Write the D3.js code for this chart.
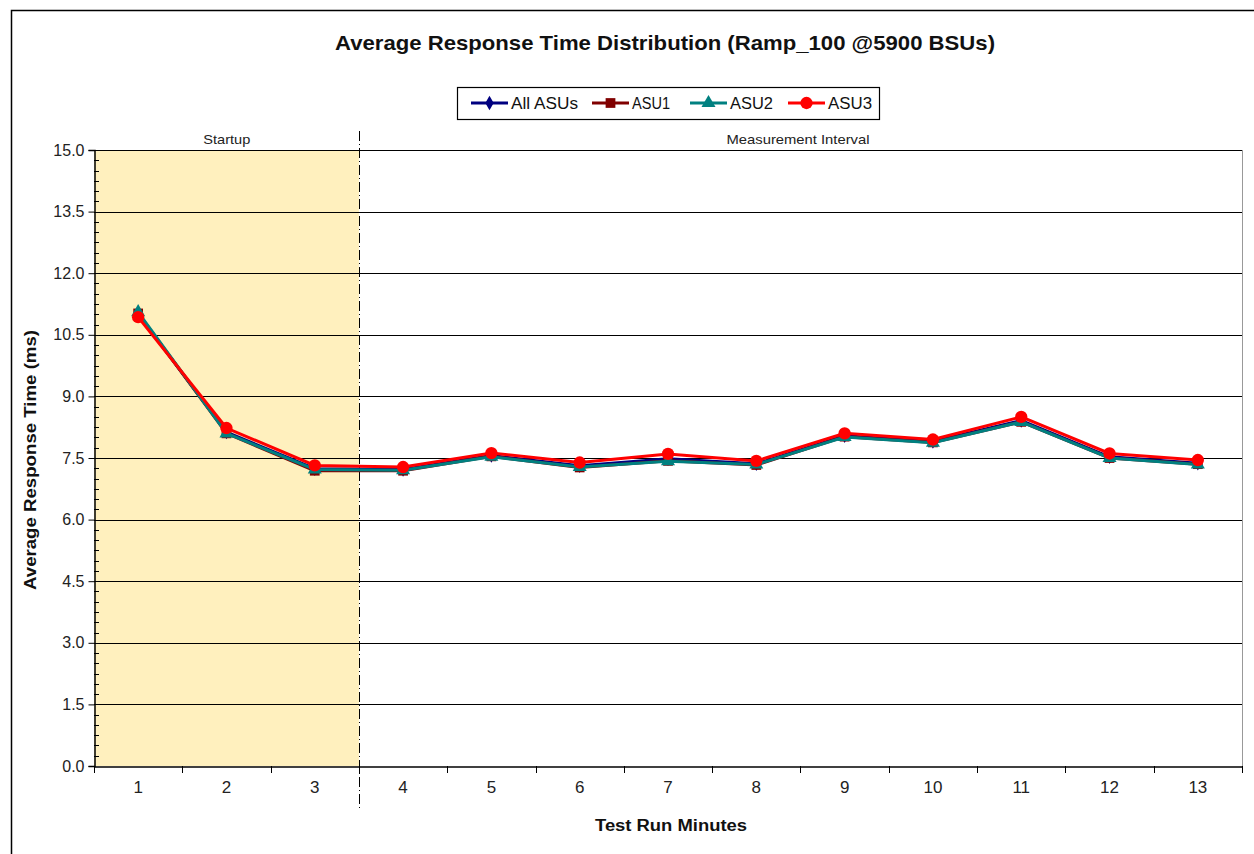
<!DOCTYPE html>
<html>
<head>
<meta charset="utf-8">
<title>Average Response Time Distribution</title>
<script src="https://d3js.org/d3.v7.min.js"></script>
<style>
  body { margin: 0; background: #fff; }
  svg { display: block; font-family: Arial, "Liberation Sans", sans-serif; }
</style>
</head>
<body>
<svg id="chart" width="1254" height="854"></svg>
<script>
// chart data
var minutes = [1, 2, 3, 4, 5, 6, 7, 8, 9, 10, 11, 12, 13];
var allAsus = [11.00, 8.13, 7.24, 7.22, 7.56, 7.31, 7.48, 7.36, 8.04, 7.90, 8.41, 7.53, 7.37];
var asu1    = [11.02, 8.10, 7.19, 7.19, 7.54, 7.27, 7.43, 7.33, 8.02, 7.88, 8.38, 7.50, 7.35];
var asu2    = [11.05, 8.10, 7.22, 7.20, 7.53, 7.28, 7.42, 7.34, 8.01, 7.87, 8.38, 7.50, 7.34];
var asu3    = [10.93, 8.23, 7.32, 7.28, 7.62, 7.39, 7.60, 7.43, 8.10, 7.95, 8.50, 7.61, 7.45];
var seriesNames = ["All ASUs", "ASU1", "ASU2", "ASU3"];
var yTicks = [0, 1.5, 3, 4.5, 6, 7.5, 9, 10.5, 12, 13.5, 15];
var startupMinutes = 3;

var series = [
  {name: seriesNames[0], values: allAsus, color: "#000080", symbol: d3.symbolDiamond,  size: 60},
  {name: seriesNames[1], values: asu1,    color: "#800000", symbol: d3.symbolSquare,   size: 95},
  {name: seriesNames[2], values: asu2,    color: "#008080", symbol: d3.symbolTriangle, size: 85},
  {name: seriesNames[3], values: asu3,    color: "#FF0000", symbol: d3.symbolCircle,   size: 120}
];

var svg = d3.select("#chart");
var margin = {left: 94, right: 1242, top: 150, bottom: 766};

// scales
var x = d3.scaleBand().domain(minutes).range([margin.left, margin.right]);
var y = d3.scaleLinear().domain([0, 15]).range([margin.bottom, margin.top]);

// outer frame
svg.append("path")
  .attr("d", "M11.5,854 L11.5,10.5 L1254,10.5")
  .attr("fill", "none").attr("stroke", "#000").attr("stroke-width", 1.5);

// startup shading
svg.append("rect")
  .attr("x", margin.left)
  .attr("y", margin.top)
  .attr("width", x(startupMinutes) + x.bandwidth() - margin.left)
  .attr("height", margin.bottom - margin.top)
  .attr("fill", "#FFF0BE");

// gridlines
svg.append("g").selectAll("line")
  .data(yTicks.filter(function(d){ return d > 0; }))
  .join("line")
  .attr("x1", margin.left).attr("x2", margin.right)
  .attr("y1", function(d){ return Math.round(y(d)) + 0.5; })
  .attr("y2", function(d){ return Math.round(y(d)) + 0.5; })
  .attr("stroke", "#000").attr("stroke-width", 1);

// right border of plot
svg.append("line")
  .attr("x1", margin.right + 0.5).attr("x2", margin.right + 0.5)
  .attr("y1", margin.top).attr("y2", margin.bottom)
  .attr("stroke", "#999");

// y axis
var yAxis = d3.axisLeft(y)
  .tickValues(yTicks)
  .tickFormat(d3.format(".1f"))
  .tickSize(6);
var gy = svg.append("g")
  .attr("transform", "translate(" + (margin.left + 0.5) + ",0)")
  .call(yAxis);
gy.select(".domain").attr("stroke", "#000").attr("stroke-width", 1.5);
gy.selectAll("text").attr("font-size", 16).attr("fill", "#222").attr("dx", -1);

// minor ticks
var minor = d3.range(0, 15.001, 0.25).filter(function(d){ return Math.abs(d / 1.5 - Math.round(d / 1.5)) > 0.01; });
svg.append("g").selectAll("line")
  .data(minor)
  .join("line")
  .attr("x1", margin.left).attr("x2", margin.left + 5)
  .attr("y1", function(d){ return Math.round(y(d)) + 0.5; })
  .attr("y2", function(d){ return Math.round(y(d)) + 0.5; })
  .attr("stroke", "#000");

// x axis
var xAxis = d3.axisBottom(x).tickSize(0).tickPadding(14);
var gx = svg.append("g")
  .attr("transform", "translate(0," + (margin.bottom + 0.5) + ")")
  .call(xAxis);
gx.select(".domain").attr("stroke", "#000").attr("stroke-width", 1.5);
gx.selectAll("text").attr("font-size", 17).attr("fill", "#222");
svg.append("g").selectAll("line")
  .data(d3.range(minutes.length + 1))
  .join("line")
  .attr("x1", function(i){ return Math.round(margin.left + i * x.step()) + 0.5; })
  .attr("x2", function(i){ return Math.round(margin.left + i * x.step()) + 0.5; })
  .attr("y1", margin.bottom).attr("y2", margin.bottom + 7)
  .attr("stroke", "#000");

// startup / measurement divider
var divX = Math.round(x(startupMinutes) + x.bandwidth()) + 0.5;
svg.append("line")
  .attr("x1", divX).attr("x2", divX)
  .attr("y1", 131).attr("y2", 808)
  .attr("stroke", "#000").attr("stroke-width", 1)
  .attr("stroke-dasharray", "10,3,1,3");

svg.append("text")
  .attr("x", (margin.left + divX) / 2).attr("y", 144)
  .attr("text-anchor", "middle").attr("font-size", 13).attr("fill", "#222")
  .attr("textLength", 47).attr("lengthAdjust", "spacingAndGlyphs")
  .text("Startup");
svg.append("text")
  .attr("x", 798).attr("y", 144)
  .attr("text-anchor", "middle").attr("font-size", 13).attr("fill", "#222")
  .attr("textLength", 143).attr("lengthAdjust", "spacingAndGlyphs")
  .text("Measurement Interval");

// lines and markers
var line = d3.line()
  .x(function(d, i){ return x(minutes[i]) + x.bandwidth() / 2; })
  .y(function(d){ return y(d); });

series.forEach(function(s){
  svg.append("path")
    .datum(s.values)
    .attr("d", line)
    .attr("fill", "none")
    .attr("stroke", s.color)
    .attr("stroke-width", 3);
  svg.append("g").selectAll("path")
    .data(s.values)
    .join("path")
    .attr("transform", function(d, i){ return "translate(" + (x(minutes[i]) + x.bandwidth() / 2) + "," + y(d) + ")"; })
    .attr("d", d3.symbol().type(s.symbol).size(s.size))
    .attr("fill", s.color);
});

// title
svg.append("text")
  .attr("x", 665).attr("y", 50)
  .attr("text-anchor", "middle").attr("font-size", 21).attr("font-weight", "bold").attr("fill", "#111")
  .attr("textLength", 660).attr("lengthAdjust", "spacingAndGlyphs")
  .text("Average Response Time Distribution (Ramp_100 @5900 BSUs)");

// axis titles
svg.append("text")
  .attr("transform", "translate(36,460) rotate(-90)")
  .attr("text-anchor", "middle").attr("font-size", 16).attr("font-weight", "bold").attr("fill", "#111")
  .attr("textLength", 260).attr("lengthAdjust", "spacingAndGlyphs")
  .text("Average Response Time (ms)");
svg.append("text")
  .attr("x", 671).attr("y", 831)
  .attr("text-anchor", "middle").attr("font-size", 16).attr("font-weight", "bold").attr("fill", "#111")
  .attr("textLength", 152).attr("lengthAdjust", "spacingAndGlyphs")
  .text("Test Run Minutes");

// legend
var legend = svg.append("g");
legend.append("rect")
  .attr("x", 457.5).attr("y", 87.5).attr("width", 422).attr("height", 32)
  .attr("fill", "#fff").attr("stroke", "#000").attr("stroke-width", 1.2);
var legendLineX = [471, 592, 690, 788];
var legendTextW = [67, 38, 43, 44];
series.forEach(function(s, i){
  var g = legend.append("g").attr("transform", "translate(" + legendLineX[i] + ",103)");
  g.append("line").attr("x1", 0).attr("x2", 37).attr("stroke", s.color).attr("stroke-width", 3);
  g.append("path").attr("transform", "translate(18.5,0)")
    .attr("d", d3.symbol().type(s.symbol).size(s.size)).attr("fill", s.color);
  g.append("text").attr("x", 40).attr("y", 6).attr("font-size", 16).attr("fill", "#111")
    .attr("textLength", legendTextW[i]).attr("lengthAdjust", "spacingAndGlyphs")
    .text(s.name);
});
</script>
</body>
</html>
